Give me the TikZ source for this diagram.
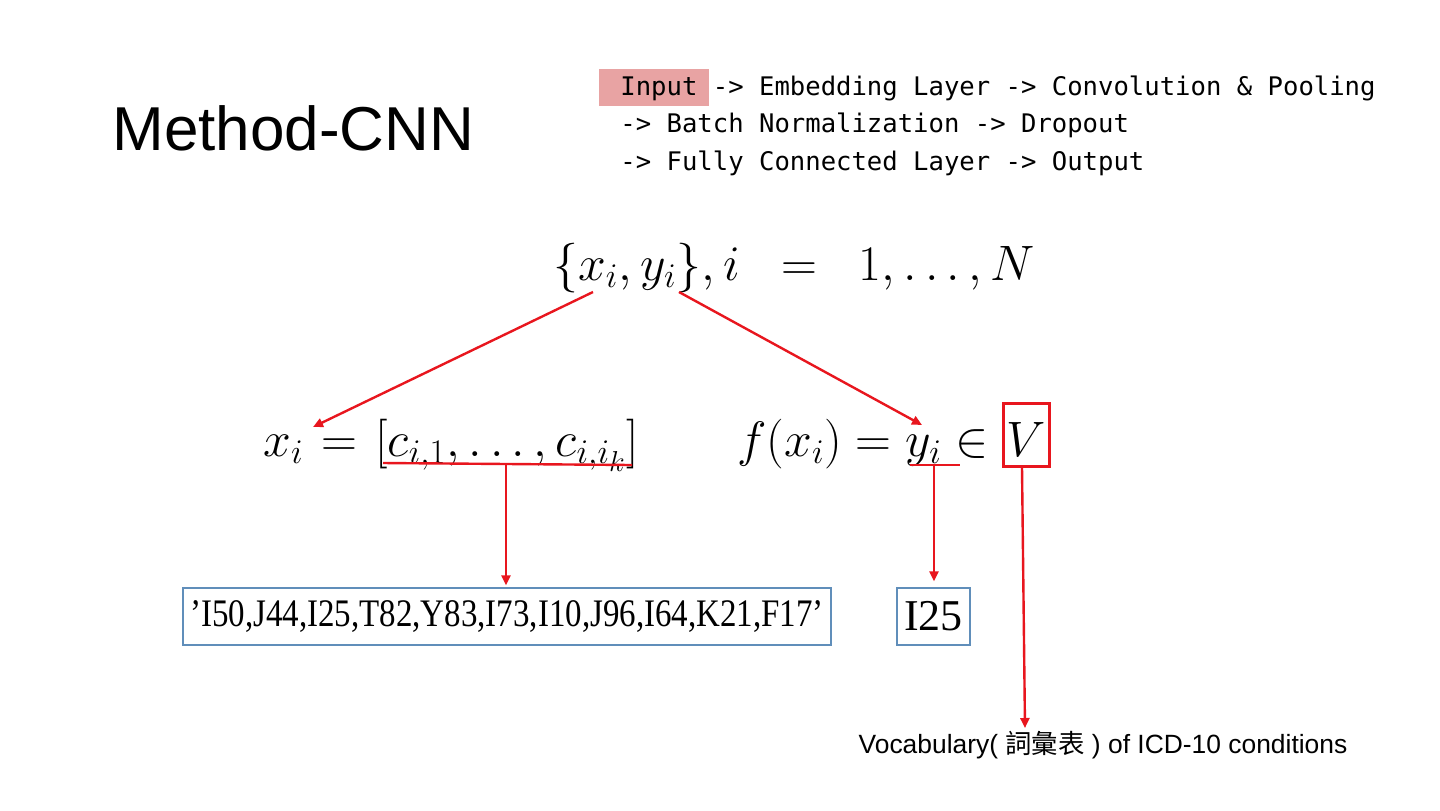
\documentclass[tikz,border=0pt]{standalone}
\usepackage{amsmath}
\usepackage{graphicx}
\usepackage{fontspec}
\setmainfont{Liberation Serif}
\setsansfont{Liberation Sans}
\setmonofont{DejaVu Sans Mono}
\newfontfamily\cjkfont{Noto Sans CJK TC}
\usetikzlibrary{arrows.meta,positioning,calc}
\definecolor{arrowred}{RGB}{232,22,30}
\definecolor{hlpink}{RGB}{232,163,163}
\definecolor{boxblue}{RGB}{96,142,186}

\begin{document}
\begin{tikzpicture}[x=0.5pt,y=-0.5pt,
    redarrow/.style={-{Triangle[length=5pt,width=4.5pt]},line width=1.2pt,arrowred},
    codebox/.style={draw=boxblue,line width=0.7pt,inner sep=0pt},
    mathnode/.style={font=\fontsize{27}{32}\selectfont,inner sep=0pt},
    pipeline/.style={font=\ttfamily\fontsize{12.8}{15}\selectfont,inner sep=0pt,anchor=base west}]
    \useasboundingbox (0,0) rectangle (1440,810);
    % title and pipeline
    \node[font=\sffamily\fontsize{31}{36}\selectfont,anchor=base west,inner sep=0pt] (title) at (112,150) {Method-CNN};
    \node[fill=hlpink,minimum width=55pt,minimum height=18.5pt,inner sep=0pt] (inputhl) at (654,87.5) {};
    \node[pipeline] (stepa) at (620,95) {Input -> Embedding Layer -> Convolution \& Pooling};
    \node[pipeline] (stepb) at (620,132) {-> Batch Normalization -> Dropout};
    \node[pipeline] (stepc) at (620,170) {-> Fully Connected Layer -> Output};
    % formulas
    \node[mathnode,anchor=base west] (data) at (553,280) {$\{x_i, y_i\}, i \;\;=\;\; 1, \ldots, N$};
    \node[mathnode,anchor=base west] (xdef) at (263,456) {$x_i \mkern1.5mu=\mkern1.5mu [c_{i,1}, \ldots, c_{i,i_k}]$};
    \node[mathnode,anchor=base west] (fdef) at (737,456) {$f(x_i) = y_i \in$};
    \node[draw=arrowred,line width=1.5pt,minimum width=23pt,minimum height=31.5pt,inner sep=0pt] (vset) at (1026,434.5) {};
    \node[mathnode,anchor=base] at ($(vset.center)+(0,22)$) {$V$};
    % targets
    \node[codebox,minimum width=324pt,minimum height=28.5pt,font=\fontsize{19.5}{22}\selectfont] (codes) at (507,616.5) {\scalebox{0.845}[1]{’I50,J44,I25,T82,Y83,I73,I10,J96,I64,K21,F17’}};
    \node[codebox,minimum width=36.5pt,minimum height=28.5pt,font=\fontsize{22}{24}\selectfont] (label) at (933.5,616.5) {I25};
    \node[font=\sffamily\fontsize{13.2}{15}\selectfont,inner sep=0pt] (vocab) at (1103,745) {Vocabulary( {\cjkfont 詞彙表} ) of ICD-10 conditions};
    % underlines and arrows
    \coordinate (xsrc) at (593,292);
    \coordinate (ysrc) at (679,292);
    \coordinate (xdst) at (313,427);
    \coordinate (ydst) at (922,425);
    \coordinate (cbar) at (506,464);
    \coordinate (ybar) at (934,465);
    \coordinate (vdst) at (1025,728);
    \draw[arrowred,line width=1.2pt] (383,463) -- (632,465);
    \draw[arrowred,line width=1.2pt] (910,465) -- (960,465);
    \draw[redarrow] (xsrc) -- (xdst);
    \draw[redarrow] (ysrc) -- (ydst);
    \draw[redarrow,shorten >=1pt] (cbar) -- (cbar |- codes.north);
    \draw[redarrow,shorten >=3pt] (ybar) -- (ybar |- label.north);
    \draw[redarrow] ($(vset.south)+(-4,0)$) -- (vdst);
\end{tikzpicture}
\end{document}
